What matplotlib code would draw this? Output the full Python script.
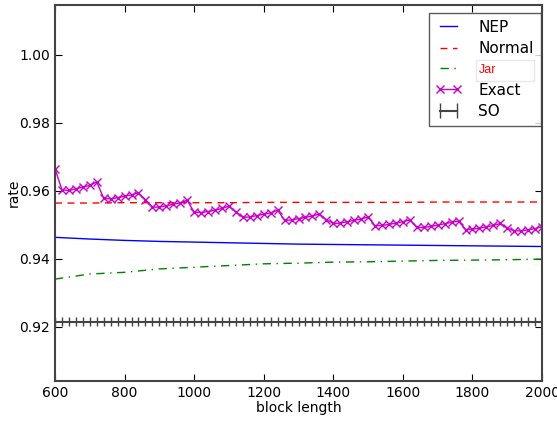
import matplotlib
matplotlib.use("Agg")
import matplotlib.pyplot as plt
import matplotlib.patches as mpatches
import numpy as np

# block lengths
block = list(range(600, 2001, 20))
coarse = list(range(600, 2001, 100))

exact = [0.9665,
         0.9603, 0.9601, 0.9606, 0.9611, 0.9616, 0.9626,
         0.9578, 0.9576, 0.9580, 0.9584, 0.9588, 0.9594,
         0.9574, 0.9552, 0.9552, 0.9556, 0.9560, 0.9565, 0.9572,
         0.9537, 0.9536, 0.9539, 0.9543, 0.9548, 0.9555,
         0.9537, 0.9522, 0.9523, 0.9527, 0.9531, 0.9535, 0.9543,
         0.9513, 0.9514, 0.9518, 0.9522, 0.9526, 0.9532,
         0.9515, 0.9504, 0.9505, 0.9509, 0.9513, 0.9517, 0.9523,
         0.9497, 0.9498, 0.9501, 0.9505, 0.9509, 0.9514,
         0.9492, 0.9492, 0.9495, 0.9499, 0.9503, 0.9507, 0.9511,
         0.9486, 0.9487, 0.9490, 0.9494, 0.9498, 0.9504,
         0.9490, 0.9482, 0.9482, 0.9485, 0.9489, 0.9494]

nep = [0.9463, 0.9458, 0.9454, 0.9451, 0.9449, 0.9447, 0.9445, 0.9443,
       0.9442, 0.9441, 0.9440, 0.9439, 0.9438, 0.9437, 0.9436]
normal = [0.9564, 0.9564, 0.9565, 0.9565, 0.9565, 0.9565, 0.9566, 0.9566,
          0.9566, 0.9566, 0.9566, 0.9567, 0.9567, 0.9567, 0.9567]
jar = [0.9340, 0.9355, 0.9360, 0.9370, 0.9375, 0.9380, 0.9385, 0.9387,
       0.9390, 0.9391, 0.9393, 0.9395, 0.9396, 0.9397, 0.9399]
so = [0.9215] * len(block)
so_err = 0.0012

fig = plt.figure(figsize=(5.57, 4.22), dpi=100)
ax = fig.add_axes([0.0987, 0.0972, 0.8745, 0.8908])

ax.plot(coarse, nep, color="blue", lw=1, label="NEP")
ax.plot(coarse, normal, color="red", lw=1, ls=(0, (5, 4)), label="Normal")
ax.plot(coarse, jar, color="green", lw=1, ls=(0, (6, 4, 1, 4)), label="Jar")
ax.plot(block, exact, color="#c800c8", lw=1, marker="x", ms=5.5, mew=1,
        label="Exact")
ax.errorbar(block, so, yerr=so_err, color="#444444", lw=1.5, elinewidth=1,
            capsize=0, label="SO")

ax.set_xlim(600, 2000)
ax.set_ylim(0.904, 1.0147)
ax.set_yticks([0.92, 0.94, 0.96, 0.98, 1.00])
ax.set_xticks(range(600, 2001, 200))
ax.tick_params(direction="in", top=True, right=True, length=5, labelsize=10)
for s in ax.spines.values():
    s.set_linewidth(1.5)
    s.set_color("#444444")
ax.set_xlabel("block length", fontsize=10, labelpad=1)
ax.set_ylabel("rate", fontsize=10)
ax.yaxis.set_label_coords(-0.07, 0.5)

leg = ax.legend(loc="upper right", bbox_to_anchor=(0.997, 0.979),
                numpoints=2, fontsize=11, fancybox=False,
                handlelength=1.7, handletextpad=1.1, borderaxespad=0,
                labelspacing=0.42, borderpad=0.45)
leg.get_frame().set_edgecolor("#333333")
jt = leg.get_texts()[2]
jt.set_color("red")
jt.set_fontsize(9)
jt.set_family("Liberation Sans")

# faint box behind the Jar label
fig.canvas.draw()
bb = jt.get_window_extent()
cy = (bb.y0 + bb.y1) / 2
box = mpatches.Rectangle((bb.x0 - 2, cy - 10.5), 58, 21, transform=None,
                         facecolor="none", edgecolor="#e6e6f6", lw=1,
                         zorder=10)
fig.patches.append(box)

fig.savefig("out.png", dpi=100)
